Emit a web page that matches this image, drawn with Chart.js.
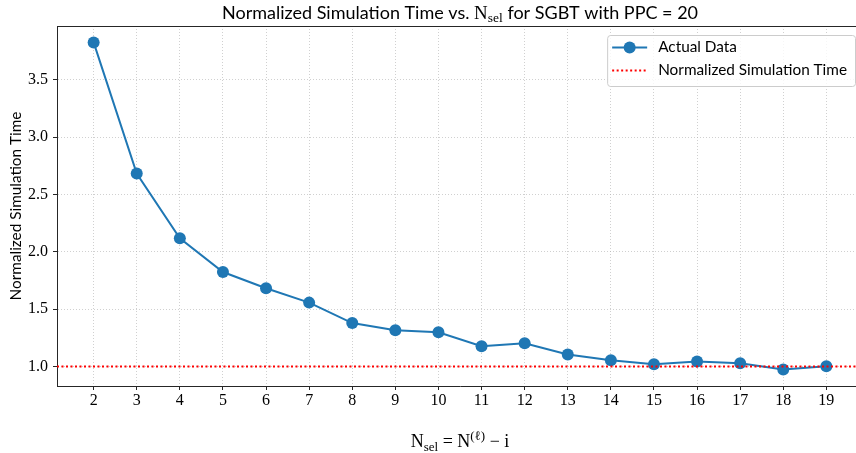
<!DOCTYPE html>
<html>
<head>
<meta charset="utf-8">
<script src="https://cdn.jsdelivr.net/npm/chart.js@4.4.1/dist/chart.umd.min.js"></script>
<style>
  html, body { margin: 0; padding: 0; background: #fff; overflow: hidden; width: 856px; height: 453px; }
  #wrap { width: 870px; height: 453px; }
</style>
</head>
<body>
<div id="wrap"><canvas id="c" width="870" height="453"></canvas></div>
<script>
// ---- data ----
const xValues = [2, 3, 4, 5, 6, 7, 8, 9, 10, 11, 12, 13, 14, 15, 16, 17, 18, 19];
const actualData = [3.827, 2.683, 2.119, 1.825, 1.683, 1.558, 1.380, 1.317, 1.299, 1.177, 1.203, 1.105, 1.055, 1.020, 1.044, 1.029, 0.974, 1.003];
const refValue = 1.0;
const xTicks = [2, 3, 4, 5, 6, 7, 8, 9, 10, 11, 12, 13, 14, 15, 16, 17, 18, 19];
const yTicks = [1.0, 1.5, 2.0, 2.5, 3.0, 3.5];
const xLimits = [1.15, 19.85];
const yLimits = [0.831, 3.970];
const seriesLabels = ['Actual Data', 'Normalized Simulation Time'];
const yTitle = 'Normalized Simulation Time';

const SANS = 'Lato, "DejaVu Sans", sans-serif';
const SERIF = '"Liberation Serif", "DejaVu Serif", serif';
const BLUE = '#1f77b4';
const AXIS = '#262626';

const mctx = document.createElement('canvas').getContext('2d');
function fitSize(text, family, target) {
  mctx.font = '100px ' + family;
  return 100 * target / mctx.measureText(text).width;
}
const legendSize = fitSize(yTitle, SANS, 189);
const titleSize = fitSize(yTitle, SANS, 222);

function drawRich(ctx, segs, cx, cy) {
  let total = 0;
  segs.forEach(s => { ctx.font = s.size + 'px ' + s.family; s.w = ctx.measureText(s.text).width; total += s.w; });
  let x = cx - total / 2;
  ctx.textBaseline = 'alphabetic';
  ctx.textAlign = 'left';
  segs.forEach(s => {
    ctx.font = s.size + 'px ' + s.family;
    ctx.fillText(s.text, x, cy + (s.dy || 0));
    x += s.w;
  });
}

const decor = {
  id: 'decor',
  afterDatasetsDraw(chart) {
    const ctx = chart.ctx;
    const a = chart.chartArea;
    ctx.save();
    // top spine
    ctx.strokeStyle = AXIS; ctx.lineWidth = 1;
    ctx.beginPath(); ctx.moveTo(a.left, a.top + 0.5); ctx.lineTo(a.right, a.top + 0.5); ctx.stroke();

    // legend
    ctx.font = legendSize + 'px ' + SANS;
    const tw = Math.max(...seriesLabels.map(t => ctx.measureText(t).width));
    const bw = 5 + 35 + 11 + tw + 8;
    const bx = a.right - 8 - bw, by = a.top + 9, bh = 51;
    ctx.beginPath();
    ctx.roundRect(bx + 0.5, by + 0.5, bw, bh, 3);
    ctx.fillStyle = 'rgba(255,255,255,0.8)'; ctx.fill();
    ctx.strokeStyle = '#cccccc'; ctx.lineWidth = 1; ctx.stroke();
    const lx0 = bx + 5, lx1 = bx + 40;
    const y1 = by + 12.5, y2 = by + 35.5;
    ctx.strokeStyle = BLUE; ctx.lineWidth = 2;
    ctx.beginPath(); ctx.moveTo(lx0, y1); ctx.lineTo(lx1, y1); ctx.stroke();
    ctx.fillStyle = BLUE; ctx.beginPath(); ctx.arc((lx0 + lx1) / 2, y1, 6, 0, Math.PI * 2); ctx.fill();
    ctx.strokeStyle = 'red'; ctx.setLineDash([2, 2.5]);
    ctx.beginPath(); ctx.moveTo(lx0, y2); ctx.lineTo(lx1, y2); ctx.stroke();
    ctx.setLineDash([]);
    ctx.fillStyle = '#000'; ctx.textAlign = 'left'; ctx.textBaseline = 'middle';
    ctx.fillText(seriesLabels[0], lx1 + 11, y1);
    ctx.fillText(seriesLabels[1], lx1 + 11, y2);
    ctx.restore();
  },
  afterDraw(chart) {
    const ctx = chart.ctx;
    const a = chart.chartArea;
    const cx = (a.left + a.right) / 2;
    ctx.save();
    ctx.fillStyle = '#000';
    // title
    drawRich(ctx, [
      { text: 'Normalized Simulation Time vs. ', size: titleSize, family: SANS },
      { text: 'N', size: titleSize * 1.05, family: SERIF },
      { text: 'sel', size: titleSize * 0.75, family: SERIF, dy: 3 },
      { text: ' for SGBT with PPC = 20', size: titleSize, family: SANS }
    ], cx, 19);
    // x label
    drawRich(ctx, [
      { text: 'N', size: 18, family: SERIF },
      { text: 'sel', size: 13, family: SERIF, dy: 3.5 },
      { text: ' = N', size: 18, family: SERIF },
      { text: '(ℓ)', size: 13, family: SERIF, dy: -7 },
      { text: ' − i', size: 18, family: SERIF }
    ], cx, 447);
    // y label
    ctx.translate(16, (a.top + a.bottom) / 2);
    ctx.rotate(-Math.PI / 2);
    ctx.font = legendSize + 'px ' + SANS;
    ctx.textAlign = 'center'; ctx.textBaseline = 'middle';
    ctx.fillText(yTitle, 0, 0);
    ctx.restore();
  }
};

const gridCommon = {
  color: 'rgba(176,176,176,0.75)',
  lineWidth: 0.8,
  borderDash: [1, 2],
  tickColor: AXIS,
  tickLength: 4,
  tickWidth: 1,
  tickBorderDash: [],
  drawOnChartArea: true
};

new Chart(document.getElementById('c'), {
  type: 'line',
  data: {
    datasets: [
      {
        label: seriesLabels[1],
        data: [{ x: xLimits[0], y: refValue }, { x: xLimits[1], y: refValue }],
        borderColor: 'red', borderWidth: 2, borderDash: [2, 2.5],
        pointRadius: 0, fill: false, order: 0
      },
      {
        label: seriesLabels[0],
        data: xValues.map((x, i) => ({ x: x, y: actualData[i] })),
        borderColor: BLUE, backgroundColor: BLUE, borderWidth: 2,
        pointRadius: 6, pointBorderWidth: 0, pointBackgroundColor: BLUE,
        tension: 0, fill: false, order: 1
      }
    ]
  },
  options: {
    responsive: false,
    animation: false,
    layout: { padding: { left: 0, right: 7, top: 26, bottom: 0 } },
    plugins: { legend: { display: false }, tooltip: { enabled: false }, title: { display: false } },
    scales: {
      x: {
        type: 'linear', min: xLimits[0], max: xLimits[1],
        afterBuildTicks: s => { s.ticks = xTicks.map(v => ({ value: v })); },
        afterFit: s => { s.height = 67; },
        grid: gridCommon,
        border: { display: true, color: AXIS, width: 1, dash: [1, 2] },
        ticks: { font: { family: SERIF, size: 16 }, color: '#000', padding: 1, maxRotation: 0, autoSkip: false,
                 callback: v => String(v) }
      },
      y: {
        type: 'linear', min: yLimits[0], max: yLimits[1],
        afterBuildTicks: s => { s.ticks = yTicks.map(v => ({ value: v })); },
        afterFit: s => { s.width = 57; },
        grid: gridCommon,
        border: { display: true, color: AXIS, width: 1, dash: [1, 2] },
        ticks: { font: { family: SERIF, size: 16 }, color: '#000', padding: 5,
                 callback: v => Number(v).toFixed(1) }
      }
    }
  },
  plugins: [decor]
});
</script>
</body>
</html>
